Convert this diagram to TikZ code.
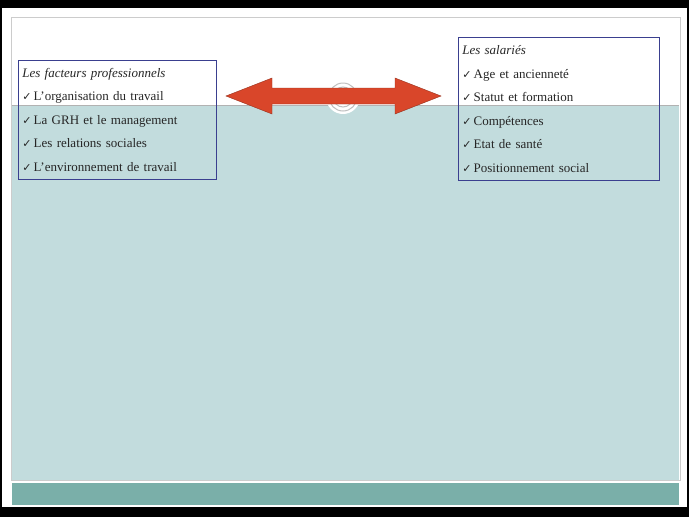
\documentclass[tikz,border=0pt]{standalone}
\usepackage{fontspec}
\setmainfont{Liberation Serif}
\newfontfamily\symf{DejaVu Sans}
\newcommand{\ck}{{\symf\fontsize{11}{11}\selectfont ✓}\,}
\definecolor{teal1}{HTML}{C2DCDD}
\definecolor{teal2}{HTML}{7AAFA9}
\definecolor{boxb}{HTML}{3A3F8F}
\definecolor{arr}{HTML}{D9462A}
\tikzset{listbox/.style={draw=boxb,line width=0.6pt,anchor=north west,inner xsep=4pt,inner ysep=3pt,font=\fontsize{13}{23.5}\selectfont\raggedright,text=black!85}}
\begin{document}
\begin{tikzpicture}[x=1pt,y=-1pt]
\useasboundingbox (0,0) rectangle (689,517);
\fill[black] (0,0) rectangle (689,517);
\fill[white] (2,8) rectangle (687,507);
\draw[gray!40] (11,17) rectangle (680,480);
\fill[teal1] (12,105) rectangle (679,480);
\draw[gray!60] (12,105) -- (679,105);
\fill[teal2] (12,483) rectangle (679,505);
\node[listbox,text width=190pt,minimum height=119pt] (L) at (18,60) {\textit{Les facteurs professionnels}\\\ck L'organisation du travail\\\ck La GRH et le management\\\ck Les relations sociales\\\ck L'environnement de travail};
\node[listbox,text width=193pt,minimum height=143pt] (R) at (458,37) {\textit{Les salariés}\\\ck Age et ancienneté\\\ck Statut et formation\\\ck Compétences\\\ck Etat de santé\\\ck Positionnement social};
\fill[white] (343,97) circle (17);
\draw[gray!50,line width=1pt] (343,97) circle (14);
\draw[gray!50,line width=1pt] (343,97) circle (10);
\coordinate (a1) at (226,96);
\coordinate (a2) at (441,96);
\fill[arr,draw=arr!70!black] (a1) -- (272,78) -- (272,88) -- (395,88) -- (395,78) -- (a2) -- (395,114) -- (395,104) -- (272,104) -- (272,114) -- cycle;
\end{tikzpicture}
\end{document}
